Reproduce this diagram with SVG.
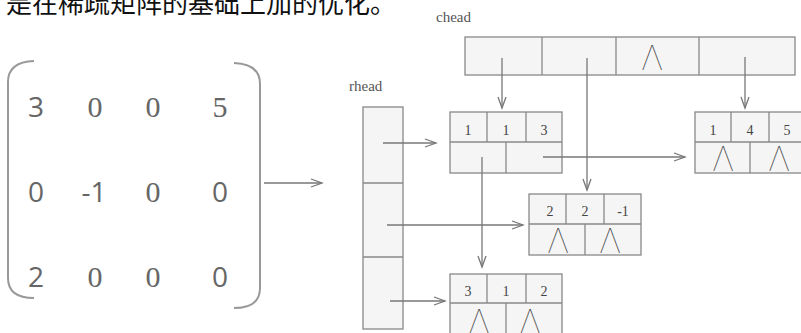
<svg xmlns="http://www.w3.org/2000/svg" width="801" height="333" viewBox="0 0 801 333">
<style>
.cap{font-family:"Noto Sans CJK SC","Noto Sans",sans-serif;font-size:26px;fill:#111}
.ms{font-family:"Open Sans","Liberation Sans",sans-serif;font-size:28px;fill:#666;text-anchor:middle}
.mr{font-family:"Liberation Serif",serif;font-size:30px;fill:#666;text-anchor:middle}
.lbl{font-family:"Liberation Serif",serif;font-size:15px;fill:#555}
.cell{fill:#f5f5f5;stroke:#888;stroke-width:1.3}
.ln{stroke:#888;stroke-width:1.3;fill:none}
.t{font-family:"Liberation Serif",serif;font-size:14px;fill:#444;text-anchor:middle}
.nil{font-family:Inter,"Lato",sans-serif;font-weight:100;font-size:34px;fill:#444;text-anchor:middle}
.br{fill:none;stroke:#999;stroke-width:2}
.ar{stroke:#777;stroke-width:1.3;fill:none;marker-end:url(#ah)}
</style>
<defs>
<marker id="ah" markerUnits="userSpaceOnUse" markerWidth="14" markerHeight="12" refX="12" refY="5" orient="auto">
<path d="M1,1 L12,5 L1,9" fill="none" stroke="#777" stroke-width="1.3"/>
</marker>
</defs>
<text class="cap" x="6" y="13">是在稀疏矩阵的基础上加的优化。</text>

<g id="matrix">
<path class="br" d="M34,61 Q8,62 8,82 L8,278 Q8,298 34,298"/>
<path class="br" d="M234,63 Q260,64 260,84 L260,288 Q260,308 234,308"/>
<text class="ms" x="36" y="117">3</text>
<text class="mr" x="95" y="117">0</text>
<text class="mr" x="153" y="117">0</text>
<text class="mr" x="220" y="117">5</text>
<text class="ms" x="36" y="202">0</text>
<text class="ms" x="94" y="202">-1</text>
<text class="mr" x="153" y="202">0</text>
<text class="ms" x="220" y="202">0</text>
<text class="ms" x="36" y="287">2</text>
<text class="mr" x="95" y="287">0</text>
<text class="mr" x="153" y="287">0</text>
<text class="ms" x="220" y="287">0</text>
</g>

<g id="chead">
<text class="lbl" x="436" y="22">chead</text>
<rect class="cell" x="465" y="37" width="330" height="38"/>
<line class="ln" x1="542" y1="37" x2="542" y2="75"/>
<line class="ln" x1="616" y1="37" x2="616" y2="75"/>
<line class="ln" x1="699" y1="37" x2="699" y2="75"/>
<text class="nil" x="652" y="70" font-size="30">Λ</text>
</g>

<g id="rhead">
<text class="lbl" x="349" y="91">rhead</text>
<rect class="cell" x="363" y="107" width="40" height="222"/>
<line class="ln" x1="363" y1="183" x2="403" y2="183"/>
<line class="ln" x1="363" y1="257" x2="403" y2="257"/>
</g>

<g id="node113">
<rect class="cell" x="450" y="112" width="112" height="61"/>
<line class="ln" x1="450" y1="142" x2="562" y2="142"/>
<line class="ln" x1="487" y1="112" x2="487" y2="142"/>
<line class="ln" x1="526" y1="112" x2="526" y2="142"/>
<line class="ln" x1="506" y1="142" x2="506" y2="173"/>
<text class="t" x="468" y="135">1</text>
<text class="t" x="506" y="135">1</text>
<text class="t" x="544" y="135">3</text>
</g>

<g id="node145">
<rect class="cell" x="695" y="112" width="112" height="61"/>
<line class="ln" x1="695" y1="142" x2="807" y2="142"/>
<line class="ln" x1="731" y1="112" x2="731" y2="142"/>
<line class="ln" x1="769" y1="112" x2="769" y2="142"/>
<line class="ln" x1="750" y1="142" x2="750" y2="173"/>
<text class="t" x="713" y="135">1</text>
<text class="t" x="750" y="135">4</text>
<text class="t" x="787" y="135">5</text>
<text class="nil" x="723" y="171">Λ</text>
<text class="nil" x="779" y="171">Λ</text>
</g>

<g id="node22m1">
<rect class="cell" x="529" y="194" width="112" height="61"/>
<line class="ln" x1="529" y1="224" x2="641" y2="224"/>
<line class="ln" x1="566" y1="194" x2="566" y2="224"/>
<line class="ln" x1="604" y1="194" x2="604" y2="224"/>
<line class="ln" x1="585" y1="224" x2="585" y2="255"/>
<text class="t" x="550" y="216">2</text>
<text class="t" x="585" y="216">2</text>
<text class="t" x="623" y="216">-1</text>
<text class="nil" x="558" y="253">Λ</text>
<text class="nil" x="610" y="253">Λ</text>
</g>

<g id="node312">
<rect class="cell" x="450" y="274" width="112" height="70"/>
<line class="ln" x1="450" y1="303" x2="562" y2="303"/>
<line class="ln" x1="487" y1="274" x2="487" y2="303"/>
<line class="ln" x1="526" y1="274" x2="526" y2="303"/>
<line class="ln" x1="506" y1="303" x2="506" y2="344"/>
<text class="t" x="468" y="296">3</text>
<text class="t" x="506" y="296">1</text>
<text class="t" x="544" y="296">2</text>
<text class="nil" x="479" y="334">Λ</text>
<text class="nil" x="530" y="334">Λ</text>
</g>

<g id="connectors">
<line class="ar" x1="264" y1="183" x2="322" y2="183"/>
<line class="ar" x1="502" y1="58" x2="502" y2="108"/>
<line class="ar" x1="587" y1="58" x2="587" y2="190"/>
<line class="ar" x1="745" y1="57" x2="745" y2="108"/>
<line class="ar" x1="383" y1="143" x2="436" y2="143"/>
<line class="ar" x1="387" y1="225" x2="523" y2="225"/>
<line class="ar" x1="390" y1="301" x2="445" y2="301"/>
<line class="ar" x1="482" y1="157" x2="482" y2="267"/>
<line class="ar" x1="543" y1="157" x2="685" y2="157"/>
</g>
</svg>
